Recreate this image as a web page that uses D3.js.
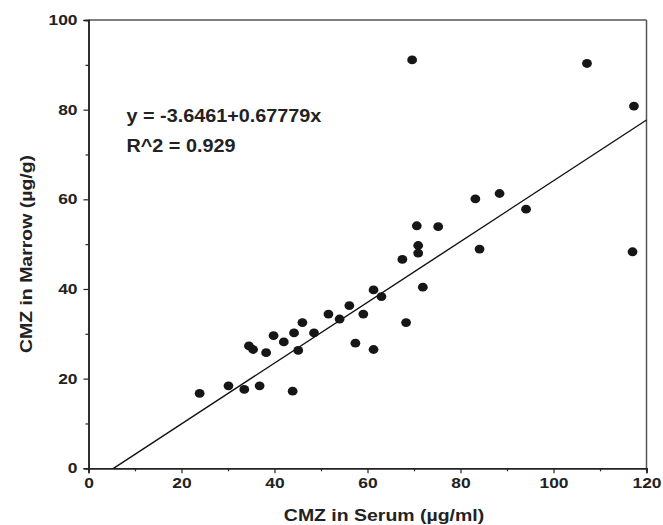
<!DOCTYPE html>
<html><head><meta charset="utf-8">
<script src="https://cdn.jsdelivr.net/npm/d3@7"></script>
<style>body{margin:0;background:#fff}svg{display:block}text{font-family:"Liberation Sans",Arial,sans-serif;font-weight:bold;fill:#222}</style>
</head><body>
<svg id="c" width="663" height="525"></svg>
<script>
const serum = [23.9,30.1,33.5,36.8,43.9,34.5,35.4,38.2,39.8,42.0,44.2,46.0,45.1,48.5,51.6,54.0,56.1,59.1,57.4,61.3,61.3,63.0,68.3,67.5,70.9,70.9,71.9,70.6,75.2,83.2,88.4,94.1,84.1,69.6,107.2,117.3,117.0];
const marrow = [16.7,18.4,17.6,18.4,17.2,27.3,26.5,25.8,29.6,28.2,30.2,32.5,26.3,30.2,34.4,33.3,36.3,34.4,27.9,26.5,39.8,38.3,32.5,46.6,49.7,48.0,40.4,54.1,53.9,60.1,61.3,57.8,48.9,91.1,90.3,80.8,48.3];
const xTicks = [0,20,40,60,80,100,120];
const yTicks = [0,20,40,60,80,100];
const intercept = -3.6461, slope = 0.67779;
const eqLines = ["y = -3.6461+0.67779x", "R^2 = 0.929"];

const svg = d3.select("#c");
const L = 88.5, R = 646.5, T = 20, B = 468.3;
const x = d3.scaleLinear().domain([0,120]).range([L,R]);
const y = d3.scaleLinear().domain([0,100]).range([B,T]);
const SX = 1.2;

const g = svg.append("g");
g.append("line").attr("x1",L).attr("x2",R).attr("y1",T).attr("y2",T).attr("stroke","#555").attr("stroke-width",1.5);
g.append("line").attr("x1",R).attr("x2",R).attr("y1",T).attr("y2",B).attr("stroke","#555").attr("stroke-width",1.5);

const xa = svg.append("g").attr("transform",`translate(0,${B})`)
  .call(d3.axisBottom(x).tickValues(xTicks).tickSize(5).tickPadding(7));
const xm = svg.append("g").attr("transform",`translate(0,${B})`)
  .call(d3.axisBottom(x).tickValues(d3.range(10,120,20)).tickSize(3).tickFormat(""));
const ya = svg.append("g").attr("transform",`translate(${L},0)`)
  .call(d3.axisLeft(y).tickValues(yTicks).tickSize(5).tickPadding(6));
const ym = svg.append("g").attr("transform",`translate(${L},0)`)
  .call(d3.axisLeft(y).tickValues(d3.range(10,100,20)).tickSize(3).tickFormat(""));
[xa,xm,ya,ym].forEach(a=>{
  a.select(".domain").attr("stroke","#222").attr("stroke-width",1.5);
  a.selectAll(".tick line").attr("stroke","#222").attr("stroke-width",1.2);
  a.selectAll("text").attr("font-size",14.5).attr("font-family","Liberation Sans, Arial, sans-serif").attr("font-weight","bold").attr("fill","#222");
});
xa.selectAll("text").attr("transform",`scale(${SX},1)`).attr("y",9).attr("dy","0.71em");
ya.selectAll("text").attr("transform",`scale(${SX},1)`).attr("x",-11/SX);

const x0 = -intercept/slope;
svg.append("line")
  .attr("x1",x(x0)).attr("y1",y(intercept+slope*x0))
  .attr("x2",x(120)).attr("y2",y(intercept+slope*120))
  .attr("stroke","#111").attr("stroke-width",1.4);

svg.append("g").selectAll("ellipse").data(serum).join("ellipse")
  .attr("cx",(d)=>x(d)).attr("cy",(d,i)=>y(marrow[i]))
  .attr("rx",4.9).attr("ry",4.4).attr("fill","#161616");

svg.append("g").attr("transform","translate(126.5,0) scale(1.1,1)")
  .selectAll("text").data(eqLines).join("text")
  .attr("x",0).attr("y",(d,i)=>121.7+i*30).attr("font-size",18).text(d=>d);

svg.append("text").attr("transform",`translate(384,521) scale(1.18,1)`).attr("text-anchor","middle").attr("font-size",16.5).text("CMZ in Serum (µg/ml)");
svg.append("text").attr("transform","translate(32,254) rotate(-90) scale(1.18,1)").attr("text-anchor","middle").attr("font-size",16.5).text("CMZ in Marrow (µg/g)");
</script>
</body></html>
